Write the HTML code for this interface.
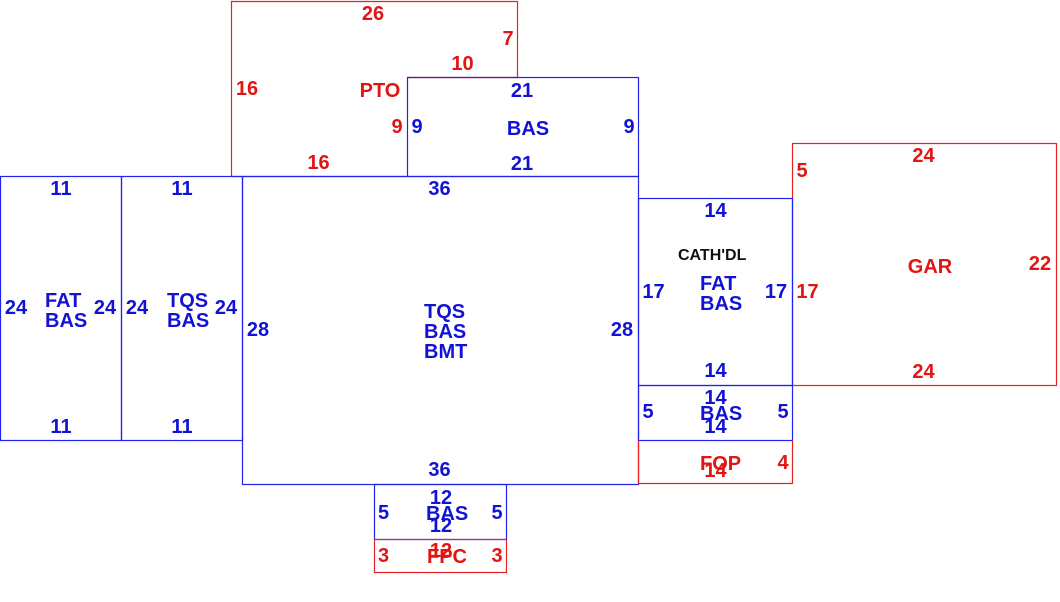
<!DOCTYPE html>
<html>
<head>
<meta charset="utf-8">
<style>
html,body{margin:0;padding:0;background:#fff;}
svg{display:block;}
text{font-family:"Liberation Sans",Arial,sans-serif;font-weight:bold;font-size:20px;}
.r{fill:#e31414;}
.b{fill:#1212d4;}
.c{text-anchor:middle;}
</style>
</head>
<body>
<svg width="1060" height="602" viewBox="0 0 1060 602" xmlns="http://www.w3.org/2000/svg">
<rect x="0" y="0" width="1060" height="602" fill="#fff"/>
<g fill="none" stroke="#e82222" stroke-width="1.2">
  <polyline points="407.5,176.5 231.5,176.5 231.5,1.5 517.5,1.5 517.5,77.5 407.5,77.5"/>
  <rect x="792.5" y="143.5" width="264" height="242"/>
</g>
<g fill="none" stroke="#2222ee" stroke-width="1.2">
  <rect x="0.5" y="176.5" width="121" height="264"/>
  <rect x="121.5" y="176.5" width="121" height="264"/>
  <rect x="242.5" y="176.5" width="396" height="308"/>
  <rect x="407.5" y="77.5" width="231" height="99"/>
  <rect x="638.5" y="198.5" width="154" height="187"/>
  <rect x="638.5" y="385.5" width="154" height="55"/>
  <rect x="374.5" y="484.5" width="132" height="55"/>
</g>
<g fill="none" stroke="#e82222" stroke-width="1.2">
  <polyline points="638.5,440.5 638.5,483.5 792.5,483.5 792.5,440.5"/>
  <rect x="374.5" y="539.5" width="132" height="33"/>
</g>

<g class="r">
  <text class="c" x="373" y="19.8">26</text>
  <text class="c" x="508" y="44.8">7</text>
  <text class="c" x="462.5" y="70.2">10</text>
  <text class="c" x="247" y="94.8">16</text>
  <text class="c" x="380" y="97.2">PTO</text>
  <text class="c" x="397" y="133.2">9</text>
  <text class="c" x="318.5" y="169.2">16</text>
  <text class="c" x="802" y="176.8">5</text>
  <text class="c" x="923.5" y="161.8">24</text>
  <text class="c" x="807.5" y="298.2">17</text>
  <text class="c" x="930" y="272.8">GAR</text>
  <text class="c" x="1040" y="269.8">22</text>
  <text class="c" x="923.5" y="377.8">24</text>
  <text x="700" y="470.2">FOP</text>
  <text class="c" x="715.5" y="477.2">14</text>
  <text class="c" x="783" y="468.8">4</text>
  <text class="c" x="383.5" y="561.8">3</text>
  <text class="c" x="497" y="561.8">3</text>
  <text x="427" y="562.8">FPC</text>
  <text class="c" x="441" y="557.2">12</text>
</g>

<g class="b">
  <text class="c" x="522" y="97.2">21</text>
  <text class="c" x="417" y="133.2">9</text>
  <text class="c" x="528" y="135.2">BAS</text>
  <text class="c" x="629" y="133.2">9</text>
  <text class="c" x="522" y="170.2">21</text>
  <text class="c" x="439.5" y="195.2">36</text>

  <text class="c" x="61" y="195.2">11</text>
  <text class="c" x="182" y="195.2">11</text>
  <text class="c" x="16" y="314.2">24</text>
  <text x="45" y="307.2">FAT</text>
  <text x="45" y="327.2">BAS</text>
  <text class="c" x="105" y="314.2">24</text>
  <text class="c" x="137" y="314.2">24</text>
  <text x="167" y="307.2">TQS</text>
  <text x="167" y="327.2">BAS</text>
  <text class="c" x="226" y="314.2">24</text>
  <text class="c" x="61" y="432.8">11</text>
  <text class="c" x="182" y="432.8">11</text>

  <text class="c" x="258" y="336.2">28</text>
  <text x="424" y="318.2">TQS</text>
  <text x="424" y="338.2">BAS</text>
  <text x="424" y="358.2">BMT</text>
  <text class="c" x="622" y="336.2">28</text>
  <text class="c" x="439.5" y="476.2">36</text>

  <text class="c" x="715.5" y="217.2">14</text>
  <text x="700" y="289.8">FAT</text>
  <text x="700" y="309.8">BAS</text>
  <text class="c" x="653.5" y="298.2">17</text>
  <text class="c" x="776" y="298.2">17</text>
  <text class="c" x="715.5" y="377.2">14</text>
  <text class="c" x="715.5" y="403.8">14</text>
  <text class="c" x="648" y="418.2">5</text>
  <text x="700" y="420.2">BAS</text>
  <text class="c" x="715.5" y="432.8">14</text>
  <text class="c" x="783" y="418.2">5</text>

  <text class="c" x="441" y="504.2">12</text>
  <text class="c" x="383.5" y="518.8">5</text>
  <text x="426" y="519.8">BAS</text>
  <text class="c" x="441" y="532.2">12</text>
  <text class="c" x="497" y="518.8">5</text>
</g>

<text x="678" y="260" style="font-size:16px;fill:#111;">CATH'DL</text>
</svg>
</body>
</html>
